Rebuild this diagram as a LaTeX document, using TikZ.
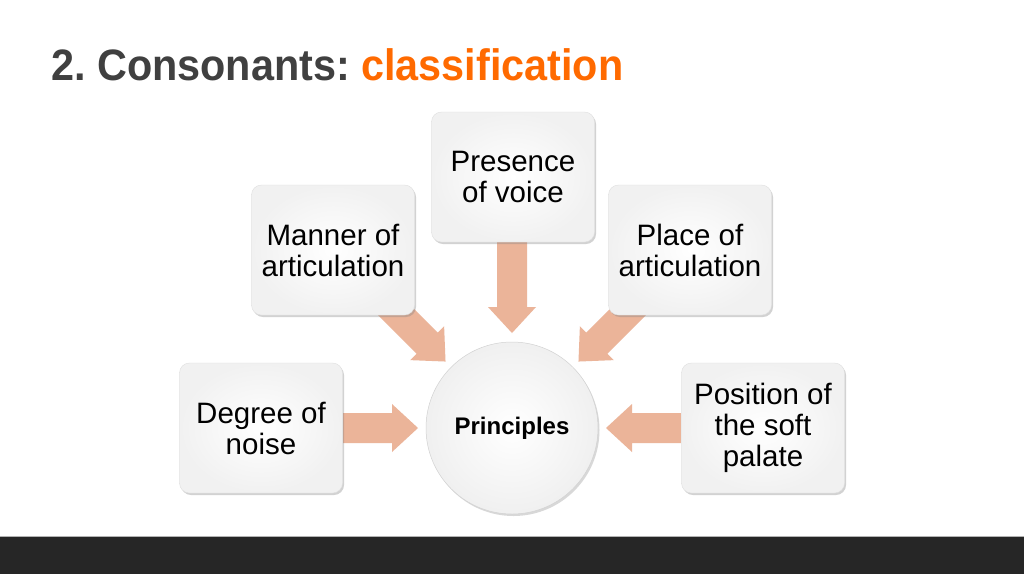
\documentclass[tikz,border=0pt]{standalone}
\usepackage{fontspec}
\setmainfont{Liberation Sans}
\usetikzlibrary{calc,shadows}
\definecolor{titlegrey}{RGB}{64,64,64}
\definecolor{titleorange}{RGB}{255,106,0}
\definecolor{arrowcol}{RGB}{235,180,153}
\definecolor{barcol}{RGB}{38,38,38}
\newcommand\blockarrow[3]{%
  \fill[arrowcol, shift={#1}, rotate=#2]
    (0,0) -- (-26,24) -- (-26,15) -- (-#3,15) -- (-#3,-15) -- (-26,-15) -- (-26,-24) -- cycle;}
\tikzset{
  box/.style={rounded corners=10pt, minimum width=163pt, minimum height=130pt,
    align=center, inner sep=0pt, draw=gray!25, line width=0.4pt,
    shading=radial, inner color=white, outer color=gray!11,
    drop shadow={shadow xshift=1.5pt, shadow yshift=-2pt, opacity=0.35},
    font=\fontsize{29.5}{31}\selectfont},
  hub/.style={circle, minimum size=172pt, inner sep=0pt, draw=gray!35, line width=0.5pt,
    shading=radial, inner color=white, outer color=gray!12,
    drop shadow={shadow xshift=1.5pt, shadow yshift=-2pt, opacity=0.3},
    font=\fontsize{24}{28}\selectfont\bfseries}
}
\begin{document}
\frenchspacing
\begin{tikzpicture}[x=1pt,y=-1pt]
\useasboundingbox (0,0) rectangle (1024,574);
\fill[white] (0,0) rectangle (1024,574);
% bottom bar
\fill[gray!60] (0,535.5) rectangle (1024,537);
\fill[barcol] (0,537) rectangle (1024,574);
% title
\node[anchor=base west, inner sep=0pt, font=\fontsize{44}{50}\selectfont\bfseries] (title) at (51,80)
  {\scalebox{0.94}[1]{\textcolor{titlegrey}{2. Consonants: }\textcolor{titleorange}{classification}}};
% hub
\node[hub] (P) at (512,428) {Principles};
% block arrows (under the boxes)
\blockarrow{($(P.center)!94pt!(P.west)$)}{0}{75}
\blockarrow{($(P.center)!94pt!(P.east)$)}{180}{75}
\blockarrow{($(P.center)!95pt!(P.north)$)}{-90}{92}
\blockarrow{($(P.center)!94pt!(P.135)$)}{-45}{85}
\blockarrow{($(P.center)!94pt!(P.45)$)}{-135}{85}
% boxes
\node[box] (noise) at (261,428) {Degree of\\noise};
\node[box] (manner) at (333,250) {Manner of\\articulation};
\node[box] (voice) at (513,177) {Presence\\of voice};
\node[box] (place) at (690,250) {Place of\\articulation};
\node[box] (palate) at (763,428) {Position of\\the soft\\palate};
\end{tikzpicture}
\end{document}
